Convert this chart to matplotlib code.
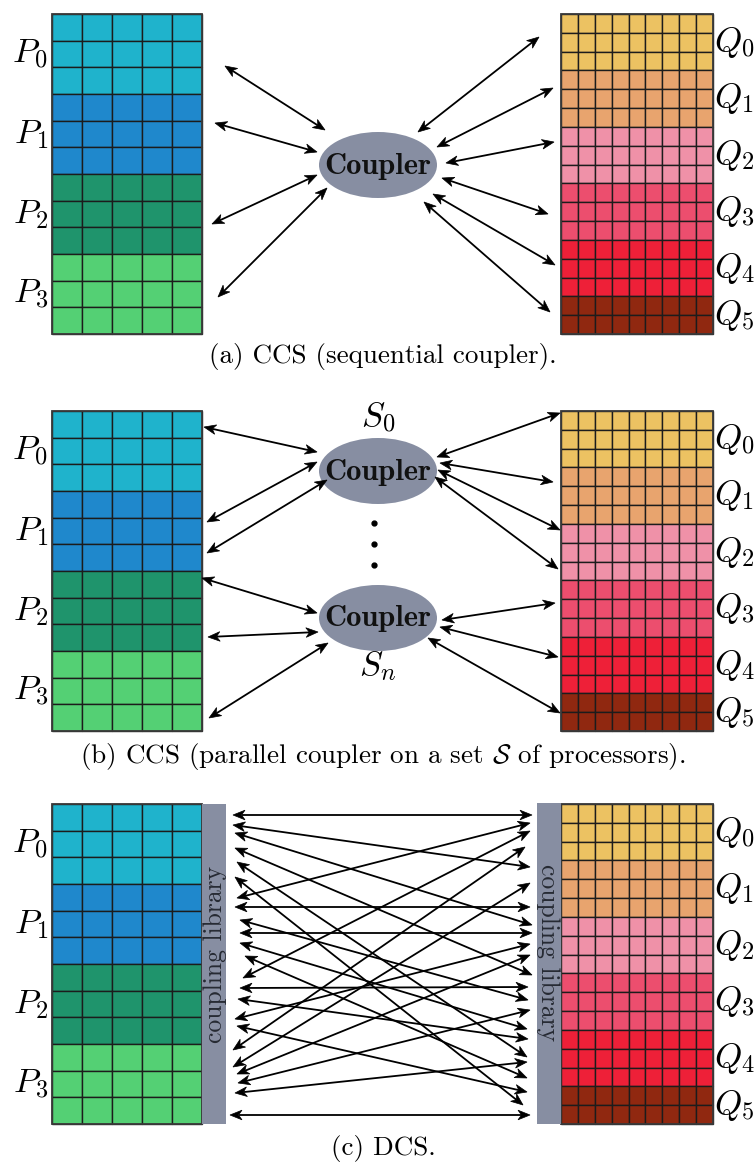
import numpy as np
import matplotlib
matplotlib.use("Agg")
import matplotlib.pyplot as plt
from matplotlib.patches import Rectangle, Ellipse, Polygon

plt.rcParams['mathtext.fontset'] = 'cm'

# ---------------- data ----------------
p_labels = [r'$P_0$', r'$P_1$', r'$P_2$', r'$P_3$']
p_colors = ['#1FB3CC', '#1F88CC', '#1F946C', '#54D074']
p_rows = [3, 3, 3, 3]
p_cols = 5

q_labels = [r'$Q_0$', r'$Q_1$', r'$Q_2$', r'$Q_3$', r'$Q_4$', r'$Q_5$']
q_colors = ['#ECC262', '#E8A46E', '#EF91A8', '#EC4E6E', '#EE2038', '#902810']
q_rows = [3, 3, 3, 3, 3, 2]
q_cols = 9

captions = ['(a) CCS (sequential coupler).',
            r'(b) CCS (parallel coupler on a set $\mathcal{S}$ of processors).',
            '(c) DCS.']
coupler_text = 'Coupler'
library_text = 'coupling library'
s_labels = [r'$S_0$', r'$S_n$']

# arrow endpoints (x1, y1, x2, y2) in figure pixels
arrows_a = [(225, 66, 325, 130), (215, 123, 317, 152), (212, 224, 317, 175),
            (218, 297, 327, 188),
            (418, 132, 539, 37), (437, 147, 553, 88), (446, 163, 554, 142),
            (442, 178, 548, 214), (433, 194, 555, 265), (424, 202, 550, 312)]
arrows_b = [(204, 427, 317, 452), (207, 522, 317, 462), (207, 553, 327, 480),
            (202, 578, 317, 613), (208, 637, 318, 632), (209, 718, 328, 643),
            (437, 457, 560, 413), (440, 463, 553, 482), (438, 470, 560, 530),
            (435, 477, 558, 569), (442, 620, 555, 603), (440, 627, 558, 657),
            (428, 638, 560, 713)]
dcs_left = [(233, 815), (233, 825), (235, 833), (235, 848), (237, 862), (235, 877),
            (237, 898), (235, 907), (240, 920), (240, 933), (240, 943), (245, 956),
            (243, 978), (240, 988), (238, 999), (235, 1019), (237, 1026), (233, 1050),
            (233, 1067), (237, 1074), (238, 1083), (235, 1093), (230, 1115)]
dcs_right = [(532, 815), (530, 867), (532, 925), (532, 975), (527, 1057), (523, 1105),
             (530, 823), (530, 907), (528, 1000), (532, 933), (527, 1029), (527, 1078),
             (530, 831), (528, 987), (528, 1039), (530, 944), (527, 1092), (525, 847),
             (530, 883), (530, 955), (530, 1010), (527, 1062), (530, 1115)]

# ---------------- layout ----------------
panel_tops = [14, 411, 804]
grid_h = 320
left_x0, left_x1 = 52, 202
right_x0, right_x1 = 561, 713
ell_color = '#878EA2'

fig = plt.figure(figsize=(7.55, 11.62), dpi=100)
ax = fig.add_axes([0, 0, 1, 1])
ax.set_xlim(0, 755)
ax.set_ylim(1162, 0)
ax.set_aspect('equal')
ax.axis('off')


def draw_grid(x0, x1, top, rows, cols, colors, labels, side):
    nrows = sum(rows)
    rh = grid_h / nrows
    cw = (x1 - x0) / cols
    r = 0
    for g, (nr, c) in enumerate(zip(rows, colors)):
        for i in range(nr):
            for j in range(cols):
                ax.add_patch(Rectangle((x0 + j * cw, top + (r + i) * rh), cw, rh,
                                       facecolor=c, edgecolor='#1c1c1c', lw=1.0))
        yc = top + (r + nr / 2) * rh
        if side == 'left':
            ax.text(x0 - 4, yc, labels[g], ha='right', va='center', fontsize=25)
        else:
            ax.text(x1 + 1, yc, labels[g], ha='left', va='center', fontsize=25)
        r += nr
    ax.add_patch(Rectangle((x0, top), x1 - x0, grid_h, facecolor='none',
                           edgecolor='#3a3a3a', lw=1.3))


def double_arrow(x1, y1, x2, y2, L=12.0, W=4.8, inset=3.5, lw=1.3):
    p1 = np.array([x1, y1], float)
    p2 = np.array([x2, y2], float)
    u = (p2 - p1) / np.linalg.norm(p2 - p1)
    n = np.array([-u[1], u[0]])
    ax.plot([p1[0] + u[0] * (L - inset), p2[0] - u[0] * (L - inset)],
            [p1[1] + u[1] * (L - inset), p2[1] - u[1] * (L - inset)],
            color='black', lw=lw, solid_capstyle='butt')
    for tip, d in ((p2, u), (p1, -u)):
        pts = [tip, tip - L * d + W * n, tip - (L - inset) * d, tip - L * d - W * n]
        ax.add_patch(Polygon(pts, closed=True, facecolor='black', edgecolor='black', lw=0.5))


for top in panel_tops:
    draw_grid(left_x0, left_x1, top, p_rows, p_cols, p_colors, p_labels, 'left')
    draw_grid(right_x0, right_x1, top, q_rows, q_cols, q_colors, q_labels, 'right')

# panel (a)
ax.add_patch(Ellipse((378, 165), 118, 66, facecolor=ell_color, edgecolor='none'))
ax.text(378, 166, coupler_text, ha='center', va='center', fontsize=22,
        family='cmb10', color='#111111')
for a in arrows_a:
    double_arrow(*a)

# panel (b)
for cy in (471, 618):
    ax.add_patch(Ellipse((378, cy), 118, 66, facecolor=ell_color, edgecolor='none'))
    ax.text(378, cy + 1, coupler_text, ha='center', va='center', fontsize=22,
            family='cmb10', color='#111111')
ax.text(378, 418, s_labels[0], ha='center', va='center', fontsize=25)
ax.text(378, 666, s_labels[1], ha='center', va='center', fontsize=25)
ax.plot([374, 374, 374], [523, 544, 565], 'o', color='black', ms=3.5)
for a in arrows_b:
    double_arrow(*a)

# panel (c)
ax.add_patch(Rectangle((202, 804), 24, 320, facecolor=ell_color, edgecolor='none'))
ax.add_patch(Rectangle((537, 803), 24, 321, facecolor=ell_color, edgecolor='none'))
ax.text(215, 954, library_text, rotation=90, ha='center', va='center',
        fontsize=18.5, family='cmr10', color='#262a33')
ax.text(548, 953, library_text, rotation=-90, ha='center', va='center',
        fontsize=18.5, family='cmr10', color='#262a33')
for (lx, ly), (rx, ry) in zip(dcs_left, dcs_right):
    double_arrow(lx, ly, rx, ry)

# captions
for cy, cap in zip((356, 757, 1148), captions):
    ax.text(383, cy, cap, ha='center', va='center', fontsize=19.5, family='cmr10')

fig.savefig('out.png', dpi=100)
